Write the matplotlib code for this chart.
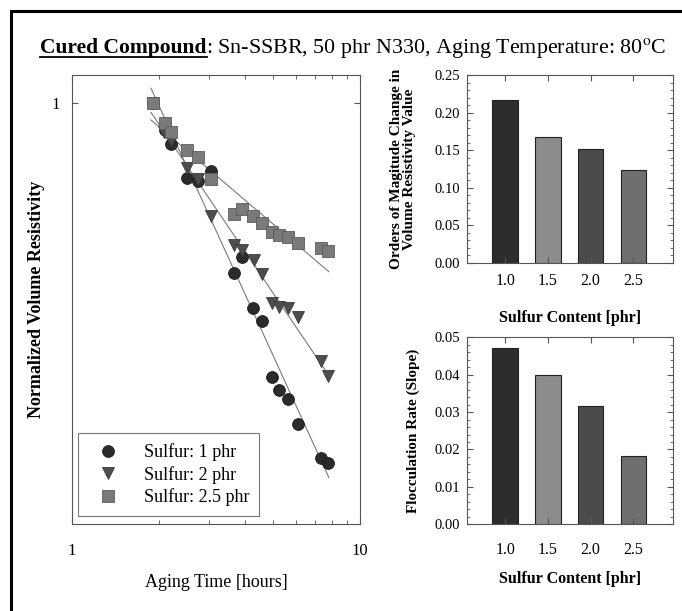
import numpy as np
import matplotlib
matplotlib.use('Agg')
import matplotlib.pyplot as plt
from matplotlib.ticker import AutoMinorLocator, LogLocator, NullFormatter, NullLocator, FixedLocator
from matplotlib.lines import Line2D

plt.rcParams['font.family'] = ['Liberation Serif', 'DejaVu Serif']
plt.rcParams['mathtext.fontset'] = 'stix'

# aging time [hours]
t_1 = [1.91, 2.10, 2.21, 2.51, 2.74, 3.04, 3.65, 3.89, 4.25, 4.57, 4.94, 5.23, 5.62, 6.09, 7.32, 7.74]
t_2 = [1.91, 2.09, 2.21, 2.51, 2.74, 3.04, 3.64, 3.89, 4.27, 4.57, 4.94, 5.23, 5.62, 6.10, 7.35, 7.74]
t_25 = [1.91, 2.10, 2.21, 2.51, 2.74, 3.04, 3.65, 3.89, 4.25, 4.57, 4.94, 5.23, 5.62, 6.09, 7.32, 7.74]
# normalized volume resistivity
r_1 = [1.000, 0.963, 0.944, 0.899, 0.895, 0.908, 0.787, 0.804, 0.749, 0.735, 0.679, 0.667, 0.658, 0.636, 0.606, 0.602]
r_2 = [1.000, 0.960, 0.949, 0.912, 0.898, 0.852, 0.818, 0.813, 0.801, 0.785, 0.754, 0.750, 0.749, 0.739, 0.695, 0.680]
r_25 = [1.000, 0.972, 0.959, 0.935, 0.926, 0.898, 0.855, 0.861, 0.853, 0.844, 0.833, 0.830, 0.828, 0.820, 0.815, 0.811]

sulfur = [1.0, 1.5, 2.0, 2.5]
sulfur_labels = ['1.0', '1.5', '2.0', '2.5']
mag_change = [0.217, 0.167, 0.151, 0.124]
floc_rate = [0.0471, 0.0399, 0.0317, 0.0183]
bar_colors = ['#2d2d2d', '#8c8c8c', '#4b4b4b', '#6f6f6f']

fig = plt.figure(figsize=(6.82, 6.11), dpi=100)

# outer frame (open to the right/bottom)
fig.add_artist(Line2D([11/682, 1.0], [1-11/611, 1-11/611], color='k', lw=2.2, transform=fig.transFigure))
fig.add_artist(Line2D([11/682, 11/682], [0.0, 1-11/611], color='k', lw=2.2, transform=fig.transFigure))

spine_col = '#555555'

# ---- left: log-log time plot
ax = fig.add_axes([72/682, 1-524/611, 288/682, 449/611])
series = [(t_1, r_1, 'o', '#2b2b2b', '#1a1a1a', 8.5, 'Sulfur: 1 phr'),
          (t_2, r_2, 'v', '#4d4d4d', '#3a3a3a', 9.0, 'Sulfur: 2 phr'),
          (t_25, r_25, 's', '#7a7a7a', '#5c5c5c', 8.0, 'Sulfur: 2.5 phr')]
for t, r, m, fc, ec, ms, lab in series:
    t = np.array(t); r = np.array(r)
    p = np.polyfit(np.log10(t), np.log10(r), 1)
    tt = np.array([1.88, 7.8])
    ax.plot(tt, 10**np.polyval(p, np.log10(tt)), '-', color='#7a7a7a', lw=0.8, zorder=1)
for t, r, m, fc, ec, ms, lab in series:
    ax.plot(t, r, m, ms=ms, mfc=fc, mec=ec, mew=0.6, label=lab, zorder=3)

ax.set_xscale('log')
ax.set_yscale('log')
ax.set_xlim(1, 10)
ax.set_ylim(0.552, 1.040)
ax.xaxis.set_major_locator(FixedLocator([1, 10]))
ax.xaxis.set_major_formatter(plt.FixedFormatter(['1', '10']))
ax.xaxis.set_minor_locator(LogLocator(base=10, subs=np.arange(2, 10)))
ax.xaxis.set_minor_formatter(NullFormatter())
ax.yaxis.set_major_locator(FixedLocator([1]))
ax.yaxis.set_major_formatter(plt.FixedFormatter(['1']))
ax.yaxis.set_minor_locator(NullLocator())
ax.tick_params(which='both', direction='in', top=True, right=True, colors=spine_col, labelcolor='k', labelsize=12, pad=14)
ax.tick_params(which='major', length=4)
ax.tick_params(which='minor', length=3)
ax.tick_params(axis='y', pad=9)
for s in ax.spines.values():
    s.set_color(spine_col)
ax.set_xlabel('Aging Time [hours]', fontsize=13)
ax.xaxis.set_label_coords(0.5, -0.112)
ax.set_ylabel('Normalized Volume Resistivity', fontsize=13, fontweight='bold')
ax.yaxis.set_label_coords(-0.095, 0.5)
leg = ax.legend(loc='lower left', bbox_to_anchor=(0.021, 0.018), borderaxespad=0, fontsize=13,
                fancybox=False, edgecolor='#555555', handletextpad=0.9, labelspacing=0.25,
                borderpad=0.55, handlelength=2.2)
leg.get_frame().set_linewidth(0.8)

# ---- right: bar charts
def bar_panel(rect, vals, ymax, step, ylabel, xpad, ylab_x):
    a = fig.add_axes(rect)
    a.bar(sulfur, vals, width=0.30, color=bar_colors, edgecolor='#222222', linewidth=0.8)
    a.set_xlim(0.55, 2.96)
    a.set_ylim(0, ymax)
    a.set_xticks(sulfur)
    a.set_xticklabels(sulfur_labels)
    yt = np.arange(0, ymax + step/2, step)
    a.set_yticks(yt)
    a.set_yticklabels(['%.2f' % v for v in yt])
    a.yaxis.set_minor_locator(AutoMinorLocator(5))
    a.tick_params(which='both', direction='in', top=True, right=True, colors=spine_col, labelcolor='k')
    a.tick_params(which='major', length=4)
    a.tick_params(which='minor', length=2)
    a.tick_params(axis='x', labelsize=11.5, pad=xpad)
    a.tick_params(axis='y', labelsize=10.5, pad=5)
    for s in a.spines.values():
        s.set_color(spine_col)
    a.set_xlabel('Sulfur Content [phr]', fontsize=11.5, fontweight='bold', va='top')
    a.xaxis.set_label_coords(0.5, -0.25)
    a.set_ylabel(ylabel, fontsize=11, fontweight='bold', linespacing=0.95)
    a.yaxis.set_label_coords(ylab_x, 0.5)
    return a

bar_panel([466.7/682, 1-263/611, 206/682, 188/611], mag_change, 0.25, 0.05,
          'Orders of Magitude Change in\nVolume Resistivity Value', 7, -0.248)
bar_panel([466.7/682, 1-524.3/611, 206/682, 187/611], floc_rate, 0.05, 0.01,
          'Flocculation Rate (Slope)', 13, -0.228)

# ---- title with underlined bold part
y_base = 1 - 53/611
t1 = fig.text(40/682, y_base, 'Cured Compound', fontsize=15.5, fontweight='bold', va='baseline', ha='left')
fig.canvas.draw()
rend = fig.canvas.get_renderer()
bb = t1.get_window_extent(renderer=rend).transformed(fig.transFigure.inverted())
fig.add_artist(Line2D([bb.x0, bb.x1], [y_base - 3.5/611, y_base - 3.5/611], color='k', lw=1.3,
                      transform=fig.transFigure))
fig.text(bb.x1, y_base, ': Sn-SSBR, 50 phr N330, Aging Temperature: 80$^{\\rm o}$C', fontsize=15.8,
         va='baseline', ha='left')

fig.savefig('out.png', dpi=100)
